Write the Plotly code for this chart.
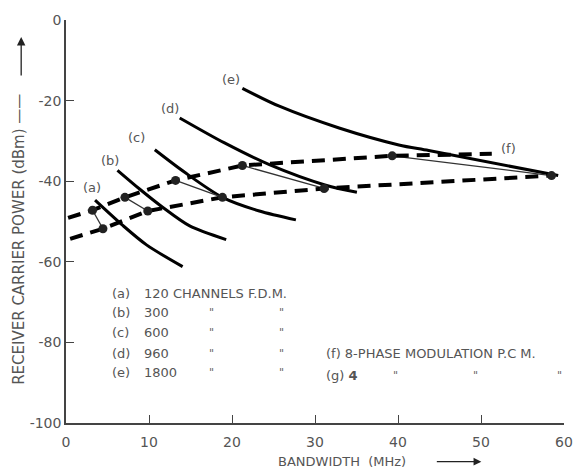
import plotly.graph_objects as go

# ---- data ----
fdm_labels = ["(a)", "(b)", "(c)", "(d)", "(e)"]
fdm_channels = ["120 CHANNELS F.D.M.", "300", "600", "960", "1800"]

curve_a_x = [3.5, 6.8, 9.7, 14.05]
curve_a_y = [-44.7, -50.9, -55.8, -61.2]
curve_b_x = [6.2, 8.9, 11.6, 14.9, 19.3]
curve_b_y = [-37.3, -42.0, -46.4, -51.1, -54.5]
curve_c_x = [10.7, 14.3, 18.85, 23.3, 27.7]
curve_c_y = [-32.2, -37.8, -44.0, -47.4, -49.6]
curve_d_x = [13.7, 19.1, 24.5, 31.3, 35.05]
curve_d_y = [-24.3, -30.5, -35.9, -41.0, -42.75]
curve_e_x = [21.25, 25.7, 32.9, 40.1, 43.7, 59.3]
curve_e_y = [-16.95, -21.4, -26.8, -31.0, -32.4, -38.6]

# 8-phase PCM (f): dashed line and its dots
f_line_x = [0.25, 3.2, 7.1, 13.2, 21.25, 39.3, 51.3]
f_line_y = [-49.1, -47.2, -44.0, -39.8, -36.1, -33.7, -33.2]
f_dot_x = [3.2, 7.1, 13.2, 21.25, 39.3]
f_dot_y = [-47.2, -44.0, -39.8, -36.1, -33.7]

# 4-phase PCM (g): dashed line and its dots
g_line_x = [0.5, 4.45, 9.85, 18.85, 31.1, 58.5]
g_line_y = [-54.3, -51.8, -47.4, -44.0, -41.8, -38.6]
g_dot_x = [4.45, 9.85, 18.85, 31.1, 58.5]
g_dot_y = [-51.8, -47.4, -44.0, -41.8, -38.6]

curve_label_x = [3.1, 5.3, 8.5, 12.5, 19.9]
curve_label_y = [-41.5, -34.9, -29.2, -21.9, -14.7]

x_ticks = [0, 10, 20, 30, 40, 50, 60]
y_ticks = [0, -20, -40, -60, -80, -100]
y_tick_text = ["0", "-20", "-40", "-60", "-80", "-100"]

TXT = "#555555"
FONT = "DejaVu Sans"

fig = go.Figure()

curves = [(curve_a_x, curve_a_y), (curve_b_x, curve_b_y), (curve_c_x, curve_c_y),
          (curve_d_x, curve_d_y), (curve_e_x, curve_e_y)]
for cx, cy in curves:
    fig.add_trace(go.Scatter(x=cx, y=cy, mode="lines",
                             line=dict(color="black", width=3, shape="spline", smoothing=0.8),
                             hoverinfo="skip", showlegend=False))

# thin connectors between f and g points
for i in range(len(f_dot_x)):
    fig.add_trace(go.Scatter(x=[f_dot_x[i], g_dot_x[i]], y=[f_dot_y[i], g_dot_y[i]],
                             mode="lines", line=dict(color="#333333", width=1.3),
                             hoverinfo="skip", showlegend=False))

for lx, ly in [(f_line_x, f_line_y), (g_line_x, g_line_y)]:
    fig.add_trace(go.Scatter(x=lx, y=ly, mode="lines",
                             line=dict(color="black", width=4, dash="13px,8px"),
                             hoverinfo="skip", showlegend=False))

fig.add_trace(go.Scatter(x=f_dot_x + g_dot_x, y=f_dot_y + g_dot_y, mode="markers",
                         marker=dict(color="#222222", size=9),
                         hoverinfo="skip", showlegend=False, cliponaxis=False))

ann = []
for lab, x, y in zip(fdm_labels, curve_label_x, curve_label_y):
    ann.append(dict(x=x, y=y, text=lab, showarrow=False, xref="x", yref="y",
                    font=dict(size=13, color=TXT, family=FONT)))
ann.append(dict(x=53.3, y=-31.9, text="(f)", showarrow=False,
                font=dict(size=13, color=TXT, family=FONT)))
ann.append(dict(x=61.2, y=-38.4, text="(g)", showarrow=False,
                font=dict(size=13, color=TXT, family=FONT)))

# key text
row_y = [-67.8, -72.5, -77.6, -82.8, -87.5]
for lab, ch, y in zip(fdm_labels, fdm_channels, row_y):
    ann.append(dict(x=5.3, y=y, text=lab, xanchor="left", showarrow=False,
                    font=dict(size=13, color=TXT, family=FONT)))
    ann.append(dict(x=9.2, y=y, text=ch, xanchor="left", showarrow=False,
                    font=dict(size=13, color=TXT, family=FONT)))
    if ch != fdm_channels[0]:
        for dx in (17.5, 26.0):
            ann.append(dict(x=dx, y=y, text='"', showarrow=False,
                            font=dict(size=11, color="#666666", family=FONT)))
ann.append(dict(x=31.1, y=-82.8, text="(f) 8-PHASE MODULATION P.C M.", xanchor="left",
                showarrow=False, font=dict(size=13, color=TXT, family=FONT)))
ann.append(dict(x=31.1, y=-88.2, text="(g) <b>4</b>", xanchor="left",
                showarrow=False, font=dict(size=13, color=TXT, family=FONT)))
for dx in (39.7, 49.3, 59.5):
    ann.append(dict(x=dx, y=-88.2, text='"', showarrow=False,
                    font=dict(size=11, color="#666666", family=FONT)))

# axis titles with arrows
ann.append(dict(xref="paper", yref="paper", x=-0.096, y=0.455, xanchor="center", yanchor="middle",
                text="RECEIVER CARRIER POWER (dBm) \u2014\u2014",
                textangle=-90, showarrow=False, font=dict(size=15, color=TXT, family=FONT)))
ann.append(dict(xref="paper", yref="paper", x=-0.09, y=0.958, text="", showarrow=True,
                ax=0, ay=40, arrowhead=2, arrowsize=1.3, arrowwidth=1.3, arrowcolor="#222222"))
ann.append(dict(xref="paper", yref="paper", x=0.554, y=-0.096, xanchor="center", yanchor="middle",
                text="BANDWIDTH  (MHz)",
                showarrow=False, font=dict(size=13, color=TXT, family=FONT)))
ann.append(dict(xref="paper", yref="paper", x=0.834, y=-0.096, text="", showarrow=True,
                ax=-46, ay=0, arrowhead=2, arrowsize=1.3, arrowwidth=1.2, arrowcolor="#222222"))

fig.update_layout(
    width=585, height=468,
    margin=dict(l=66, r=19, t=16, b=45),
    paper_bgcolor="white", plot_bgcolor="white",
    annotations=ann,
    showlegend=False,
    xaxis=dict(range=[0, 60], tickvals=x_ticks, ticks="inside", ticklen=8, tickcolor="#444",
               showline=True, linecolor="#444", linewidth=1.5, showgrid=False, zeroline=False,
               ticklabelstandoff=5,
               tickfont=dict(size=14, color=TXT, family=FONT)),
    yaxis=dict(range=[-100, 0], tickvals=y_ticks, ticktext=y_tick_text, ticks="inside",
               ticklen=8, tickcolor="#444", showline=True, linecolor="#444", linewidth=1.5,
               showgrid=False, zeroline=False, tickfont=dict(size=14, color=TXT, family=FONT)),
)

fig.write_html("out.html")
